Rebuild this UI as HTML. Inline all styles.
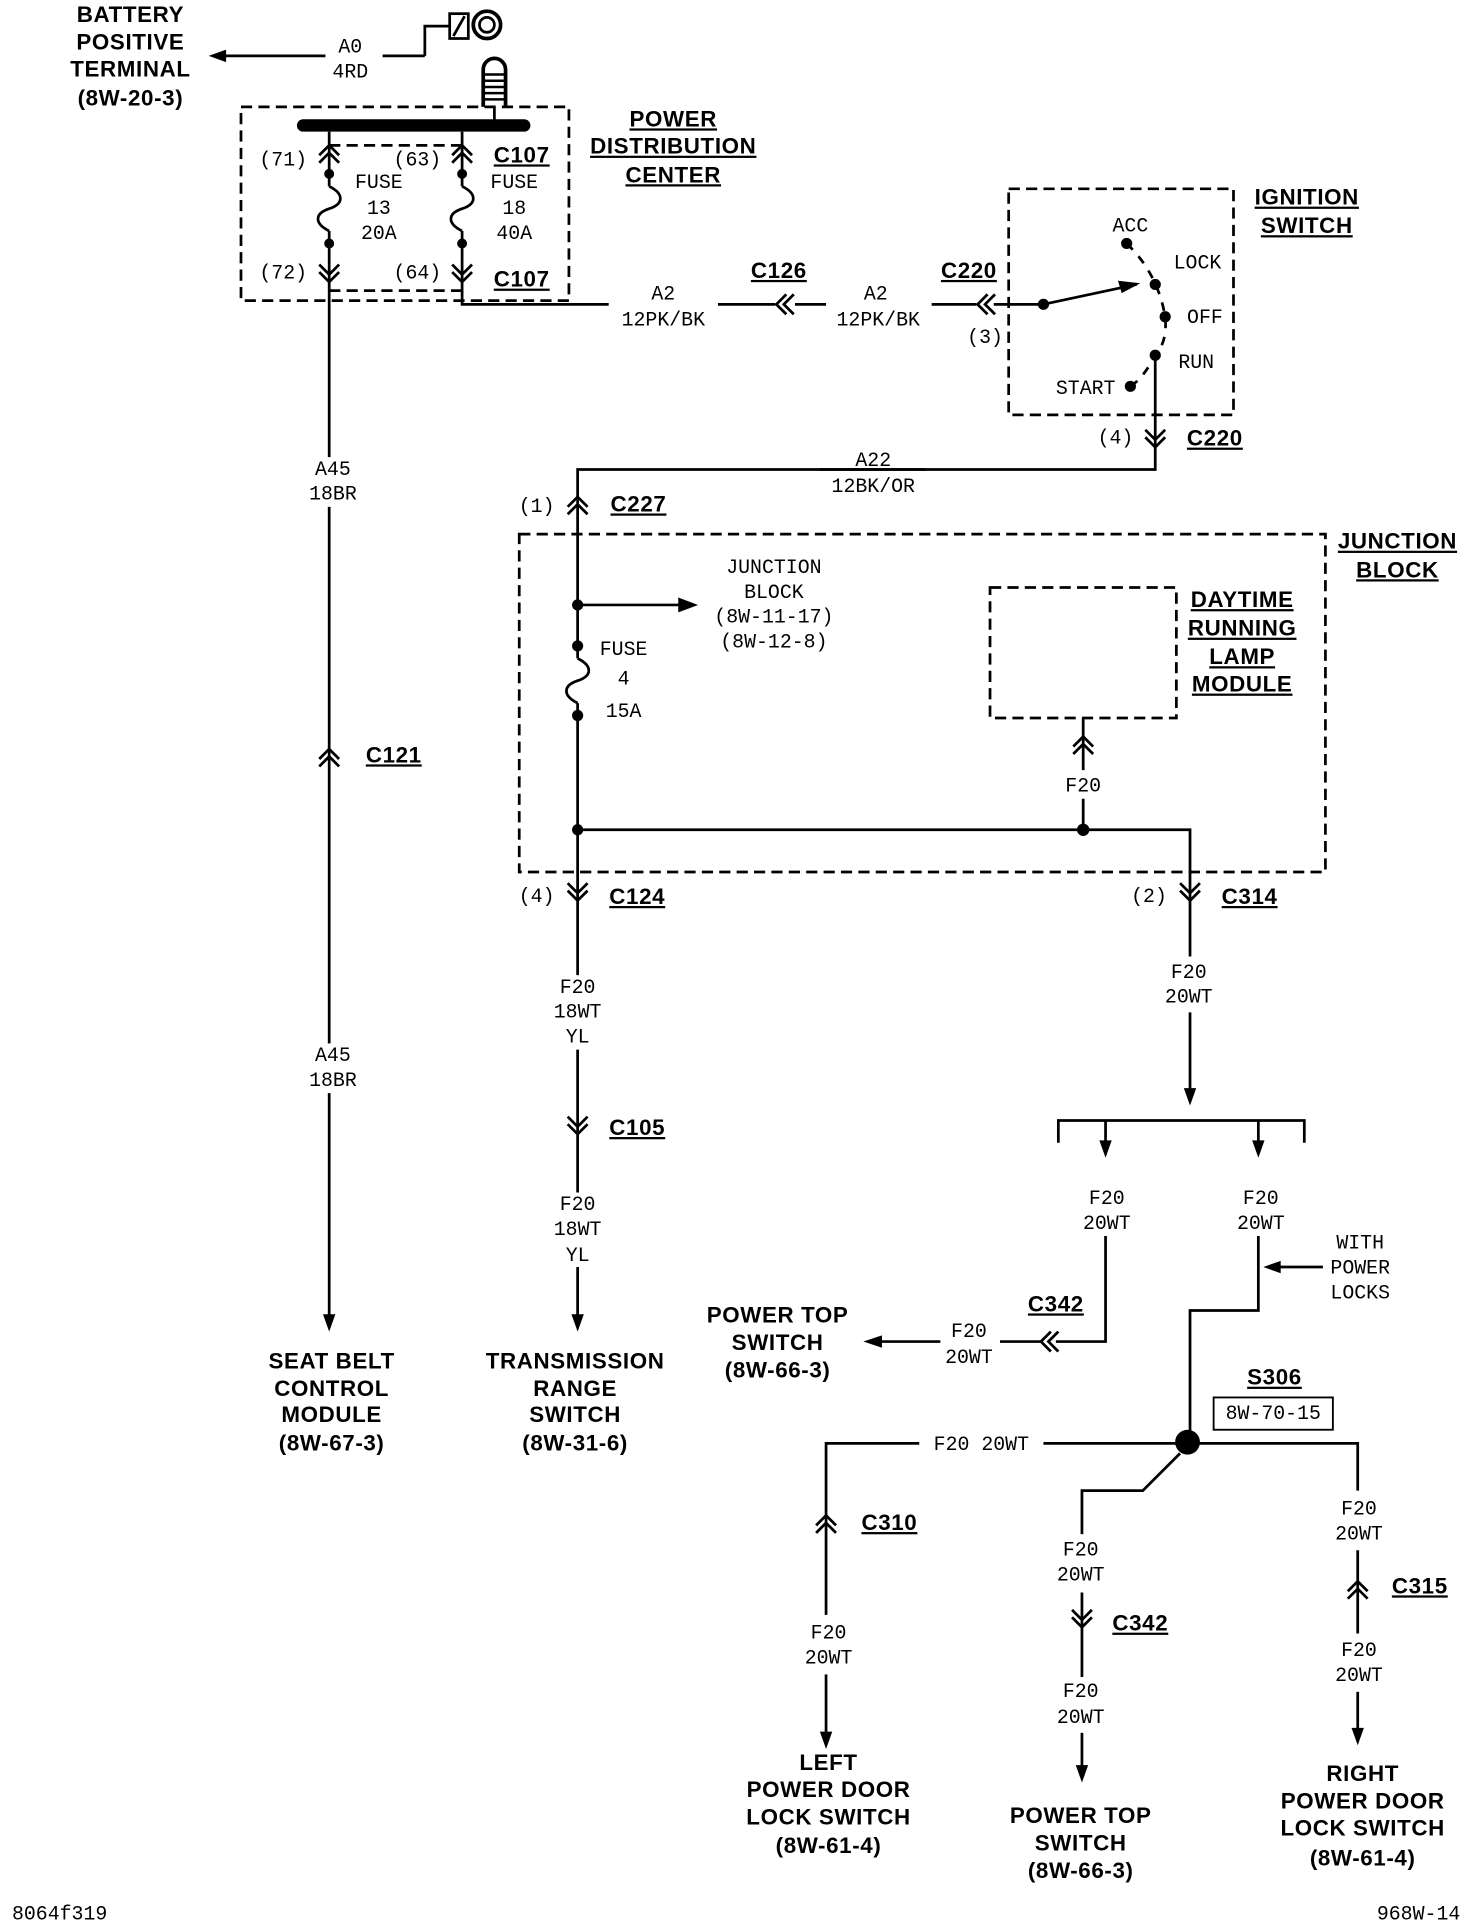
<!DOCTYPE html>
<html><head><meta charset="utf-8"><style>
html,body{margin:0;padding:0;background:#fff}
svg{display:block}
.t{font-family:"Liberation Mono",monospace;font-size:16px;fill:#000;text-anchor:middle;dominant-baseline:middle}
.b{font-family:"Liberation Sans",sans-serif;font-weight:bold;font-size:18px;fill:#000;text-anchor:middle;dominant-baseline:middle;letter-spacing:0.5px}
.u{text-decoration:underline}
</style></head><body>
<svg width="1472" height="1926" viewBox="0 0 1185 1550.5" preserveAspectRatio="none" xmlns="http://www.w3.org/2000/svg">
<defs>
<g id="cu" fill="none" stroke="#000" stroke-width="2.2"><polyline points="-8,3 0,-5 8,3"/><polyline points="-8,9 0,1 8,9"/></g>
<g id="cd" fill="none" stroke="#000" stroke-width="2.2"><polyline points="-8,-9 0,-1 8,-9"/><polyline points="-8,-3 0,5 8,-3"/></g>
<g id="cl" fill="none" stroke="#000" stroke-width="2.2"><polyline points="3,-8 -5,0 3,8"/><polyline points="9,-8 1,0 9,8"/></g>
<path id="ad" d="M-5,-14 L0,0 L5,-14 Z"/>
</defs>
<g stroke="#000" stroke-width="2.2" fill="none">
<!-- battery -->
<line x1="262" y1="45" x2="175" y2="45"/>
<line x1="308" y1="45" x2="342" y2="45"/><polyline points="342,45 342,21 362,21"/>
<rect x="362" y="11" width="15" height="20"/><line x1="365" y1="29" x2="374" y2="13"/>
<circle cx="392" cy="20" r="11" stroke-width="3"/><circle cx="392" cy="20" r="6"/>
<path d="M389,86 V56 a9,9 0 0 1 18,0 V86" stroke-width="3"/>
<g stroke-width="2"><line x1="390" y1="60" x2="406" y2="60"/><line x1="390" y1="65" x2="406" y2="65"/><line x1="390" y1="70" x2="406" y2="70"/><line x1="390" y1="75" x2="406" y2="75"/><line x1="390" y1="80" x2="406" y2="80"/></g>
<line x1="398" y1="86" x2="398" y2="100"/>
<!-- PDC -->
<rect x="194" y="86" width="264" height="156" stroke-dasharray="9,5"/>
<line x1="265" y1="117" x2="372" y2="117" stroke-dasharray="9,5"/>
<line x1="265" y1="234" x2="372" y2="234" stroke-dasharray="9,5"/>
<line x1="244" y1="101" x2="422" y2="101" stroke-width="10" stroke-linecap="round"/>
<line x1="265" y1="106" x2="265" y2="150"/><path d="M265,150 c12,6 12,14 0,18 c-12,4 -12,12 0,18"/><line x1="265" y1="186" x2="265" y2="1060"/>
<line x1="372" y1="106" x2="372" y2="150"/><path d="M372,150 c12,6 12,14 0,18 c-12,4 -12,12 0,18"/><polyline points="372,186 372,245 490,245"/>
<line x1="578" y1="245" x2="624" y2="245"/><line x1="640" y1="245" x2="665" y2="245"/>
<line x1="750" y1="245" x2="786" y2="245"/><line x1="800" y1="245" x2="840" y2="245"/>
<line x1="840" y1="245" x2="915" y2="229"/>
<!-- ignition -->
<rect x="812" y="152" width="181" height="182" stroke-dasharray="9,5"/>
<path d="M907,196 Q932,220 938,255 Q940,275 930,286 Q920,305 910,311" stroke-dasharray="7,7"/>
<polyline points="930,286 930,378 660,378"/><polyline points="745,378 465,378 465,487"/>
<!-- junction -->
<rect x="418" y="430" width="649" height="272" stroke-dasharray="9,5"/>
<line x1="465" y1="487" x2="550" y2="487"/>
<line x1="465" y1="487" x2="465" y2="530"/><path d="M465,530 c12,6 12,14 0,18 c-12,4 -12,12 0,18"/><line x1="465" y1="566" x2="465" y2="785"/>
<line x1="465" y1="845" x2="465" y2="960"/><line x1="465" y1="1020" x2="465" y2="1060"/>
<polyline points="465,668 958,668 958,770"/>
<line x1="872" y1="668" x2="872" y2="643"/><line x1="872" y1="620" x2="872" y2="578"/>
<rect x="797" y="473" width="150" height="105" stroke-dasharray="9,5"/>
<line x1="958" y1="815" x2="958" y2="880"/>
<polyline points="852,920 852,902 1050,902 1050,920"/>
<line x1="890" y1="902" x2="890" y2="920"/><line x1="1013" y1="902" x2="1013" y2="920"/>
<polyline points="890,995 890,1080 850,1080"/><line x1="838" y1="1080" x2="805" y2="1080"/><line x1="757" y1="1080" x2="705" y2="1080"/>
<polyline points="1013,995 1013,1055 958,1055 958,1160"/>
<line x1="1065" y1="1020" x2="1028" y2="1020"/>
<line x1="956" y1="1162" x2="840" y2="1162"/><polyline points="740,1162 665,1162 665,1300"/><line x1="665" y1="1348" x2="665" y2="1395"/>
<polyline points="950,1170 920,1200 871,1200 871,1235"/><line x1="871" y1="1282" x2="871" y2="1350"/><line x1="871" y1="1395" x2="871" y2="1422"/>
<polyline points="956,1162 1093,1162 1093,1200"/><line x1="1093" y1="1248" x2="1093" y2="1315"/><line x1="1093" y1="1362" x2="1093" y2="1392"/>
<line x1="265" y1="386" x2="265" y2="388"/>
</g>
<!-- gaps for labels on A45 -->
<rect x="250" y="368" width="32" height="40" fill="#fff"/><rect x="245" y="840" width="42" height="40" fill="#fff"/>
<g fill="#000">
<path d="M168,45 L182,40 L182,50 Z"/>
<circle cx="265" cy="140" r="4"/><circle cx="265" cy="196" r="4"/><circle cx="372" cy="140" r="4"/><circle cx="372" cy="196" r="4"/>
<circle cx="840" cy="245" r="4.5"/><path d="M918,228 L900,226 L903,236 Z"/>
<circle cx="907" cy="196" r="4.5"/><circle cx="930" cy="229" r="4.5"/><circle cx="938" cy="255" r="4.5"/><circle cx="930" cy="286" r="4.5"/><circle cx="910" cy="311" r="4.5"/>
<circle cx="465" cy="487" r="4.5"/><path d="M562,487 L546,481 L546,493 Z"/>
<circle cx="465" cy="520" r="4.5"/><circle cx="465" cy="576" r="4.5"/>
<circle cx="465" cy="668" r="4.5"/><circle cx="872" cy="668" r="5"/>
<use href="#ad" x="265" y="1072"/><use href="#ad" x="465" y="1072"/><use href="#ad" x="958" y="890"/>
<use href="#ad" x="890" y="932"/><use href="#ad" x="1013" y="932"/>
<use href="#ad" x="665" y="1408"/><use href="#ad" x="871" y="1435"/><use href="#ad" x="1093" y="1405"/>
<path d="M695,1080 L710,1075 L710,1085 Z"/><path d="M1017,1020 L1031,1015 L1031,1025 Z"/>
<circle cx="956" cy="1161" r="10"/>
</g>
<use href="#cu" x="265" y="122"/><use href="#cu" x="372" y="122"/>
<use href="#cd" x="265" y="222"/><use href="#cd" x="372" y="222"/>
<use href="#cl" x="630" y="245"/><use href="#cl" x="792" y="245"/>
<use href="#cd" x="930" y="355"/><use href="#cu" x="465" y="405"/>
<use href="#cu" x="265" y="608"/><use href="#cu" x="872" y="598"/>
<use href="#cd" x="465" y="720"/><use href="#cd" x="958" y="720"/><use href="#cd" x="465" y="908"/>
<use href="#cl" x="843" y="1080"/>
<use href="#cu" x="665" y="1225"/><use href="#cd" x="871" y="1305"/><use href="#cu" x="1093" y="1278"/>
<rect x="977" y="1125" width="96" height="26" fill="none" stroke="#000" stroke-width="1.5"/>
<!-- text -->
<g class="b">
<text x="105" y="13">BATTERY</text><text x="105" y="35">POSITIVE</text><text x="105" y="57">TERMINAL</text><text x="105" y="80">(8W-20-3)</text>
<text x="420" y="126" class="u">C107</text><text x="420" y="226" class="u">C107</text>
<text x="542" y="97" class="u">POWER</text><text x="542" y="119" class="u">DISTRIBUTION</text><text x="542" y="142" class="u">CENTER</text>
<text x="627" y="219" class="u">C126</text><text x="780" y="219" class="u">C220</text>
<text x="1052" y="160" class="u">IGNITION</text><text x="1052" y="183" class="u">SWITCH</text>
<text x="978" y="354" class="u">C220</text><text x="514" y="407" class="u">C227</text>
<text x="1125" y="437" class="u">JUNCTION</text><text x="1125" y="460" class="u">BLOCK</text>
<text x="1000" y="484" class="u">DAYTIME</text><text x="1000" y="507" class="u">RUNNING</text><text x="1000" y="530" class="u">LAMP</text><text x="1000" y="552" class="u">MODULE</text>
<text x="317" y="609" class="u">C121</text><text x="513" y="723" class="u">C124</text><text x="1006" y="723" class="u">C314</text><text x="513" y="909" class="u">C105</text>
<text x="850" y="1051" class="u">C342</text><text x="1026" y="1110" class="u">S306</text>
<text x="626" y="1060">POWER TOP</text><text x="626" y="1082">SWITCH</text><text x="626" y="1104">(8W-66-3)</text>
<text x="267" y="1097">SEAT BELT</text><text x="267" y="1119">CONTROL</text><text x="267" y="1140">MODULE</text><text x="267" y="1163">(8W-67-3)</text>
<text x="463" y="1097">TRANSMISSION</text><text x="463" y="1119">RANGE</text><text x="463" y="1140">SWITCH</text><text x="463" y="1163">(8W-31-6)</text>
<text x="716" y="1227" class="u">C310</text><text x="918" y="1308" class="u">C342</text><text x="1143" y="1278" class="u">C315</text>
<text x="667" y="1420">LEFT</text><text x="667" y="1442">POWER DOOR</text><text x="667" y="1464">LOCK SWITCH</text><text x="667" y="1487">(8W-61-4)</text>
<text x="870" y="1463">POWER TOP</text><text x="870" y="1485">SWITCH</text><text x="870" y="1507">(8W-66-3)</text>
<text x="1097" y="1429">RIGHT</text><text x="1097" y="1451">POWER DOOR</text><text x="1097" y="1473">LOCK SWITCH</text><text x="1097" y="1497">(8W-61-4)</text>
</g>
<g class="t">
<text x="282" y="38">A0</text><text x="282" y="58">4RD</text>
<text x="228" y="129">(71)</text><text x="336" y="129">(63)</text>
<text x="305" y="147">FUSE</text><text x="305" y="168">13</text><text x="305" y="188">20A</text>
<text x="414" y="147">FUSE</text><text x="414" y="168">18</text><text x="414" y="188">40A</text>
<text x="228" y="220">(72)</text><text x="336" y="220">(64)</text>
<text x="534" y="237">A2</text><text x="534" y="258">12PK/BK</text>
<text x="705" y="237">A2</text><text x="707" y="258">12PK/BK</text>
<text x="793" y="272">(3)</text>
<text x="910" y="182">ACC</text><text x="964" y="212">LOCK</text><text x="970" y="256">OFF</text><text x="963" y="292">RUN</text><text x="874" y="313">START</text>
<text x="898" y="353">(4)</text>
<text x="703" y="371">A22</text><text x="703" y="392">12BK/OR</text>
<text x="268" y="378">A45</text><text x="268" y="398">18BR</text>
<text x="432" y="408">(1)</text>
<text x="623" y="457">JUNCTION</text><text x="623" y="477">BLOCK</text><text x="623" y="497">(8W-11-17)</text><text x="623" y="517">(8W-12-8)</text>
<text x="502" y="523">FUSE</text><text x="502" y="547">4</text><text x="502" y="573">15A</text>
<text x="872" y="633">F20</text>
<text x="432" y="722">(4)</text><text x="925" y="722">(2)</text>
<text x="465" y="795">F20</text><text x="465" y="815">18WT</text><text x="465" y="835">YL</text>
<text x="957" y="783">F20</text><text x="957" y="803">20WT</text>
<text x="268" y="850">A45</text><text x="268" y="870">18BR</text>
<text x="465" y="970">F20</text><text x="465" y="990">18WT</text><text x="465" y="1011">YL</text>
<text x="891" y="965">F20</text><text x="891" y="985">20WT</text><text x="1015" y="965">F20</text><text x="1015" y="985">20WT</text>
<text x="1095" y="1001">WITH</text><text x="1095" y="1021">POWER</text><text x="1095" y="1041">LOCKS</text>
<text x="780" y="1072">F20</text><text x="780" y="1093">20WT</text>
<text x="1025" y="1138">8W-70-15</text>
<text x="790" y="1163">F20 20WT</text>
<text x="1094" y="1215">F20</text><text x="1094" y="1235">20WT</text>
<text x="870" y="1248">F20</text><text x="870" y="1268">20WT</text>
<text x="667" y="1315">F20</text><text x="667" y="1335">20WT</text>
<text x="1094" y="1329">F20</text><text x="1094" y="1349">20WT</text>
<text x="870" y="1362">F20</text><text x="870" y="1383">20WT</text>
<text x="48" y="1541">8064f319</text><text x="1142" y="1541">968W-14</text>
</g>
</svg>
</body></html>
